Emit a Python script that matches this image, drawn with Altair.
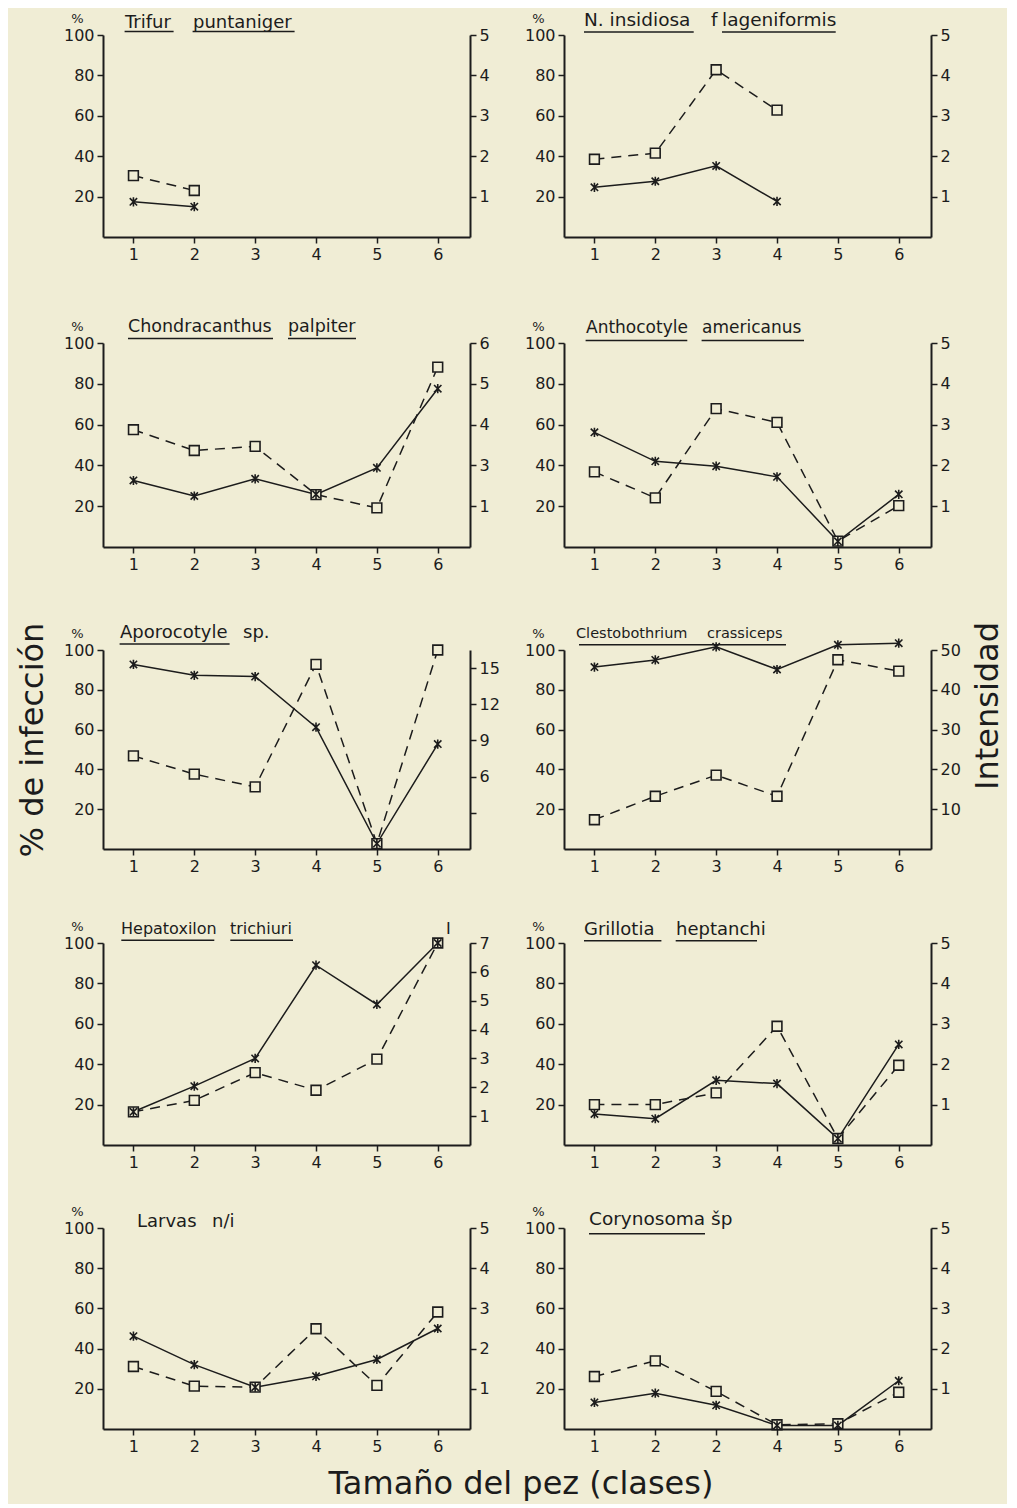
import altair as alt
import pandas as pd

BG = "#f0edd5"
INK = "#1c1c1c"
FONT = "DejaVu Sans"
STAR = "M-0.8,-0.8L0.8,0.8M-0.8,0.8L0.8,-0.8M0,-1L0,1"

# ---------------- data ----------------
classes = [1, 2, 3, 4, 5, 6]
default_xlabels = ["1", "2", "3", "4", "5", "6"]
coryno_xlabels = ["1", "2", "2", "4", "5", "6"]

left_ticks = [20, 40, 60, 80, 100]

trifur_pct = [30.4, 23.0]
trifur_int = [0.87, 0.75]

insidiosa_pct = [38.5, 41.5, 82.8, 62.8]
insidiosa_int = [1.23, 1.38, 1.76, 0.88]

chondra_pct = [57.5, 47.3, 49.3, 25.7, 19.2, 88.2]
chondra_int = [2.63, 2.25, 2.67, 2.29, 2.94, 4.88]

antho_pct = [36.8, 24.1, 67.8, 61.1, 2.9, 20.3]
antho_int = [2.81, 2.10, 1.98, 1.72, 0.14, 1.29]

aporo_pct = [46.8, 37.6, 31.2, 92.8, 2.7, 100.0]
aporo_int = [15.3, 14.4, 14.3, 10.1, 0.45, 8.7]

clesto_pct = [14.7, 26.5, 37.1, 26.5, 95.1, 89.4]
clesto_int = [45.7, 47.5, 50.8, 45.1, 51.3, 51.7]

hepato_pct = [16.4, 22.1, 35.8, 27.1, 42.5, 100.0]
hepato_int = [1.15, 2.04, 3.0, 6.23, 4.87, 7.0]

grillo_pct = [20.0, 20.0, 25.8, 58.8, 3.2, 39.5]
grillo_int = [0.77, 0.65, 1.60, 1.52, 0.16, 2.49]

larvas_pct = [31.1, 21.3, 20.8, 49.9, 21.7, 58.2]
larvas_int = [2.31, 1.60, 1.04, 1.31, 1.73, 2.50]

coryno_pct = [26.1, 33.9, 18.7, 2.1, 2.6, 18.3]
coryno_int = [0.66, 0.89, 0.59, 0.09, 0.09, 1.20]

r5_ticks = [1, 2, 3, 4, 5]
r5_labels = ["1", "2", "3", "4", "5"]
chondra_rticks = [2, 3, 4, 5, 6]
chondra_rlabels = ["1", "3", "4", "5", "6"]
aporo_rticks = [3, 6, 9, 12, 15]
aporo_rlabels = ["", "6", "9", "12", "15"]
clesto_rticks = [10, 20, 30, 40, 50]
clesto_rlabels = ["10", "20", "30", "40", "50"]
hepato_rticks = [1, 2, 3, 4, 5, 6, 7]
hepato_rlabels = ["1", "2", "3", "4", "5", "6", "7"]

# ---------------- panel layout / decoration ----------------
panels = [
    dict(pct=trifur_pct, inten=trifur_int, rdomain=[0, 5], rticks=r5_ticks, rlabels=r5_labels,
         xlabels=default_xlabels, fs=18, base=-7, uly=-3.5,
         words=[("Trifur", 22), ("puntaniger", 90)], ul=[(21.6, 70.6), (89.6, 191.6)]),
    dict(pct=insidiosa_pct, inten=insidiosa_int, rdomain=[0, 5], rticks=r5_ticks, rlabels=r5_labels,
         xlabels=default_xlabels, fs=18.5, base=-9, uly=-3,
         words=[("N. insidiosa", 20), ("f", 147), ("lageniformis", 158)], ul=[(20, 129.7), (158, 271.7)]),
    dict(pct=chondra_pct, inten=chondra_int, rdomain=[1, 6], rticks=chondra_rticks, rlabels=chondra_rlabels,
         xlabels=default_xlabels, fs=17.5, base=-11, uly=-4.5,
         words=[("Chondracanthus", 25), ("palpiter", 185)], ul=[(25, 170), (185, 253)]),
    dict(pct=antho_pct, inten=antho_int, rdomain=[0, 5], rticks=r5_ticks, rlabels=r5_labels,
         xlabels=default_xlabels, fs=17, base=-10, uly=-2.5,
         words=[("Anthocotyle", 22), ("americanus", 138)], ul=[(21.6, 123.3), (137.6, 240)]),
    dict(pct=aporo_pct, inten=aporo_int, rdomain=[0, 16.5], rticks=aporo_rticks, rlabels=aporo_rlabels,
         xlabels=default_xlabels, fs=18, base=-12.5, uly=-6,
         words=[("Aporocotyle", 17), ("sp.", 140)], ul=[(16.6, 126.6)]),
    dict(pct=clesto_pct, inten=clesto_int, rdomain=[0, 50], rticks=clesto_rticks, rlabels=clesto_rlabels,
         xlabels=default_xlabels, fs=14.5, base=-12, uly=-5.3,
         words=[("Clestobothrium", 12), ("crassiceps", 143)], ul=[(15, 222)]),
    dict(pct=hepato_pct, inten=hepato_int, rdomain=[0, 7], rticks=hepato_rticks, rlabels=hepato_rlabels,
         xlabels=default_xlabels, fs=16, base=-9, uly=-2.7,
         words=[("Hepatoxilon", 18), ("trichiuri", 127), ("I", 343)], ul=[(18.3, 111.3), (127.3, 190)]),
    dict(pct=grillo_pct, inten=grillo_int, rdomain=[0, 5], rticks=r5_ticks, rlabels=r5_labels,
         xlabels=default_xlabels, fs=18, base=-8.5, uly=-2.3,
         words=[("Grillotia", 20), ("heptanchi", 112)], ul=[(20, 97.4), (111.7, 193)]),
    dict(pct=larvas_pct, inten=larvas_int, rdomain=[0, 5], rticks=r5_ticks, rlabels=r5_labels,
         xlabels=default_xlabels, fs=18, base=-1, uly=None,
         words=[("Larvas", 34), ("n/i", 109)], ul=[]),
    dict(pct=coryno_pct, inten=coryno_int, rdomain=[0, 5], rticks=r5_ticks, rlabels=r5_labels,
         xlabels=coryno_xlabels, fs=18.5, base=-3.3, uly=5.7,
         words=[("Corynosoma", 25), ("šp", 147)], ul=[(25, 141)]),
]

# big titles: (panel index, text, x, y, angle, baseline)
big_titles = {
    4: ("% de infección", -70, 90, 270, "middle"),
    5: ("Intensidad", 424, 56, 270, "middle"),
    8: ("Tamaño del pez (clases)", 418, 266, 0, "alphabetic"),
}

PANEL_W = 367
ROW_H = [202, 204, 199, 202, 201]
ROW_SPACING = [56, 49, 46, 35]
COL_GAP = 94


def label_expr(values, labels):
    expr = "datum.label"
    for v, l in reversed(list(zip(values, labels))):
        expr = f"datum.value == {v} ? '{l}' : ({expr})"
    return expr


one = pd.DataFrame({"k": [0]})


def make_panel(i, cfg, height):
    n = len(cfg["pct"])
    df = pd.DataFrame({"clase": classes[:n], "pct": cfg["pct"], "inten": cfg["inten"]})
    x = alt.X("clase:Q", scale=alt.Scale(domain=[0.5, 6.53], nice=False, zero=False),
              axis=alt.Axis(values=classes, labelExpr=label_expr(classes, cfg["xlabels"]), title=None))
    yl_scale = alt.Scale(domain=[0, 100], nice=False, zero=True)
    yl = alt.Y("pct:Q", scale=yl_scale,
               axis=alt.Axis(values=left_ticks, title="%", titleAngle=0, titleX=-26, titleY=-13,
                             titleAlign="center", titleBaseline="alphabetic", titleFontSize=13,
                             titleFontWeight="normal", titleFont=FONT, titleColor=INK))
    yl_n = alt.Y("pct:Q", scale=yl_scale, axis=None)
    yr_scale = alt.Scale(domain=cfg["rdomain"], nice=False, zero=False)
    yr = alt.Y("inten:Q", scale=yr_scale,
               axis=alt.Axis(orient="right", values=cfg["rticks"],
                             labelExpr=label_expr(cfg["rticks"], cfg["rlabels"]), title=None))
    yr_n = alt.Y("inten:Q", scale=yr_scale, axis=None)
    base = alt.Chart(df)
    layers = [
        base.mark_line(color=INK, strokeWidth=1.5, strokeDash=[10, 7]).encode(x=x, y=yl),
        base.mark_line(color=INK, strokeWidth=1.5).encode(x=x, y=yr),
        base.mark_point(shape="square", size=95, filled=True, fill=BG, stroke=INK,
                        strokeWidth=1.6, opacity=1).encode(x=x, y=yl_n),
        base.mark_point(shape=STAR, size=85, filled=False, stroke=INK,
                        strokeWidth=1.6, opacity=1).encode(x=x, y=yr_n),
    ]
    for word, wx in cfg["words"]:
        layers.append(alt.Chart(one).mark_text(align="left", baseline="alphabetic", font=FONT,
                                               fontSize=cfg["fs"], color=INK, text=word)
                      .encode(x=alt.value(wx), y=alt.value(cfg["base"])))
    for u0, u1 in cfg["ul"]:
        layers.append(alt.Chart(one).mark_rule(color=INK, strokeWidth=1.6)
                      .encode(x=alt.value(u0), x2=alt.value(u1), y=alt.value(cfg["uly"])))
    if i in big_titles:
        t, tx, ty, ang, bl = big_titles[i]
        layers.append(alt.Chart(one).mark_text(align="center", baseline=bl, font=FONT, fontSize=32,
                                               color=INK, text=t, angle=ang)
                      .encode(x=alt.value(tx), y=alt.value(ty)))
    return alt.layer(*layers).resolve_scale(y="independent").properties(width=PANEL_W, height=height)


rows = []
for r in range(5):
    left = make_panel(2 * r, panels[2 * r], ROW_H[r])
    right = make_panel(2 * r + 1, panels[2 * r + 1], ROW_H[r])
    rows.append(alt.hconcat(left, right, spacing=COL_GAP, bounds="flush"))

chart = rows[4]
chart = alt.vconcat(rows[3], chart, spacing=ROW_SPACING[3])
chart = alt.vconcat(rows[2], chart, spacing=ROW_SPACING[2])
chart = alt.vconcat(rows[1], chart, spacing=ROW_SPACING[1])
chart = alt.vconcat(rows[0], chart, spacing=ROW_SPACING[0])

chart = chart.properties(
    background=BG,
    padding={"left": 8, "top": 3, "right": 3, "bottom": 4},
).configure_view(stroke=None).configure_axis(
    domainColor=INK, domainWidth=2, tickColor=INK, tickWidth=1.5, tickSize=6,
    labelFont=FONT, labelFontSize=16, labelColor=INK, labelPadding=3, grid=False,
)

chart.save("out.html", embed_options={"renderer": "svg", "actions": False})
